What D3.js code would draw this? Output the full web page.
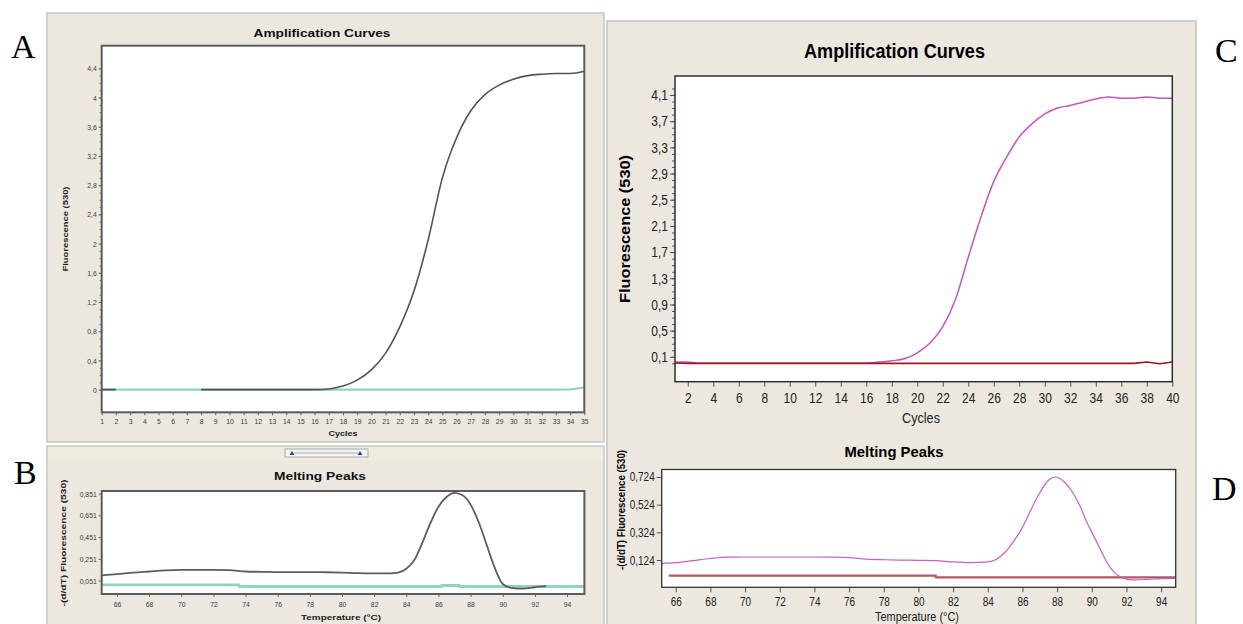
<!DOCTYPE html>
<html><head><meta charset="utf-8">
<script src="https://cdn.jsdelivr.net/npm/d3@7"></script>
<style>
html,body{margin:0;padding:0;background:#fff;}
svg{display:block;}
</style></head><body>
<svg id="c" width="1243" height="624"></svg>
<script>
// ---------------- DATA ----------------
// Panel A: amplification curves (cycles 1..35)
const cyclesA = d3.range(1, 36);
const sampleA = [0,0,null,null,null,null,null,0,0,0,0,0,0,0,0,0,0.01,0.05,0.13,0.27,0.5,0.86,1.35,2.05,2.9,3.45,3.82,4.04,4.17,4.25,4.3,4.32,4.33,4.33,4.36];
const negCtrlA = [0,0,0,0,0,0,0,0,0,0,0,0,0,0,0,0,0,0,0,0,0,0,0,0,0,0,0,0,0,0,0,0,0,0.005,0.03];
const yTicksA = [0,0.4,0.8,1.2,1.6,2,2.4,2.8,3.2,3.6,4,4.4];

// Panel B: melting peaks
const tempsB = [65.05,66,67,68,69,70,71,72,73,74,75,76,77,78,79,80,81,82,83,83.5,84,84.5,85,85.5,86,86.5,87,87.5,88,88.5,89,89.5,90,90.5,91,91.5,92,92.7];
const sampleB = [0.10,0.11,0.125,0.135,0.145,0.15,0.15,0.15,0.148,0.135,0.132,0.13,0.13,0.13,0.128,0.125,0.12,0.118,0.118,0.125,0.16,0.24,0.40,0.58,0.73,0.82,0.857,0.835,0.75,0.59,0.38,0.17,0.02,-0.015,-0.022,-0.02,-0.01,0.0];
const tempsNegB = [65.05,73.6,86.2,87.3,95.08];
const negCtrlB = [0.012,-0.003,0.006,-0.003,-0.003];
const yTicksB = [0.051,0.251,0.451,0.651,0.851];
const xTicksB = [66,68,70,72,74,76,78,80,82,84,86,88,90,92,94];

// Panel C: amplification curves (cycles 1..40)
const cyclesC = d3.range(1, 41);
const sampleC = [0.02,0.02,0,0,0,0,0,0,0,0,0,0,0,0,0,0,0.02,0.04,0.07,0.16,0.31,0.56,0.98,1.62,2.24,2.78,3.15,3.46,3.66,3.81,3.9,3.94,3.99,4.04,4.07,4.05,4.05,4.07,4.05,4.05];
const negCtrlC = [0.005,0,0,0,0,0,0,0,0,0,0,0,0,0,0,0,0,0,0,0,0,0,0,0,0,0,0,0,0,0,0,0,0,0,0,0,0,0.02,-0.005,0.02];
const yTicksC = [0.1,0.5,0.9,1.3,1.7,2.1,2.5,2.9,3.3,3.7,4.1];
const xTicksC = [2,4,6,8,10,12,14,16,18,20,22,24,26,28,30,32,34,36,38,40];

// Panel D: melting peaks
const tempsD = [65.2,66,67,68,69,70,71,72,73,74,75,76,77,78,79,80,81,82,83,84,84.5,85,85.5,86,86.5,87,87.5,87.9,88.4,88.8,89.3,89.7,90.1,90.5,90.8,91.35,91.8,92.3,93.2,94,94.84];
const sampleD = [0.10,0.105,0.12,0.135,0.145,0.146,0.146,0.146,0.146,0.146,0.145,0.142,0.13,0.126,0.124,0.122,0.12,0.11,0.105,0.11,0.13,0.18,0.26,0.36,0.49,0.61,0.70,0.724,0.69,0.63,0.52,0.40,0.30,0.20,0.124,0.028,-0.005,-0.02,-0.016,-0.01,-0.008];
const tempsNegD = [65.6,81,94.84];
const negCtrlD = [0.011,-0.001,-0.001];
const yTicksD = [0.124,0.324,0.524,0.724];
const xTicksD = [66,68,70,72,74,76,78,80,82,84,86,88,90,92,94];

// ---------------- DRAW ----------------
const svg = d3.select('#c');
const BEIGE = '#ece8df';
const SANS = '"Liberation Sans",Arial,sans-serif';
const comma = n => (d => (+d.toFixed(n)).toString().replace('.', ','));
const comma3 = d => d.toFixed(3).replace('.', ',');

// squeeze text horizontally to imitate a narrow typeface
function condense(sel, k) {
  sel.each(function () {
    const w = this.getComputedTextLength();
    if (w > 0) d3.select(this).attr('textLength', w * k).attr('lengthAdjust', 'spacingAndGlyphs');
  });
}

// panel backgrounds
svg.append('rect').attr('x',47).attr('y',13).attr('width',557).attr('height',429)
  .attr('fill',BEIGE).attr('stroke','#c6c8c4').attr('stroke-width',1.5);
svg.append('rect').attr('x',47).attr('y',446).attr('width',557).attr('height',190)
  .attr('fill',BEIGE).attr('stroke','#c6c8c4').attr('stroke-width',1.5);
svg.append('rect').attr('x',48).attr('y',447).attr('width',555).attr('height',14).attr('fill','#eeecdf');
svg.append('rect').attr('x',607).attr('y',21).attr('width',589).attr('height',615)
  .attr('fill',BEIGE).attr('stroke','#c2c2c0').attr('stroke-width',1.5);

// slider widget
svg.append('rect').attr('x',285).attr('y',449).attr('width',83).attr('height',8)
  .attr('fill','#f3f3f3').attr('stroke','#9a9a9a').attr('stroke-width',0.8);
svg.append('line').attr('x1',294).attr('x2',358).attr('y1',453).attr('y2',453).attr('stroke','#b0b0b0');
[292,360].forEach(cx => svg.append('path')
  .attr('d', `M${cx-2.5},455 L${cx+2.5},455 L${cx},451 Z`).attr('fill','#3040a0'));

let clipN = 0;
function panel(o) {
  const x = d3.scaleLinear().domain(o.xDomain).range([o.left, o.right]);
  const y = d3.scaleLinear().domain(o.yDomain).range([o.bottom, o.top]);
  const g = svg.append('g');
  g.append('rect').attr('x',o.left).attr('y',o.top).attr('width',o.right-o.left)
    .attr('height',o.bottom-o.top).attr('fill','#fff');
  const cid = 'clip' + (clipN++);
  svg.append('clipPath').attr('id',cid).append('rect')
    .attr('x',o.left).attr('y',o.top).attr('width',o.right-o.left).attr('height',o.bottom-o.top);

  if (o.yMinor) {
    const ym = g.append('g').attr('transform',`translate(${o.left},0)`)
      .call(d3.axisLeft(y).tickValues(o.yMinor).tickSize(o.minorLen).tickFormat(''));
    ym.select('.domain').remove();
    ym.selectAll('line').attr('stroke',o.tickColor);
  }
  const ya = g.append('g').attr('transform',`translate(${o.left},0)`)
    .call(d3.axisLeft(y).tickValues(o.yTicks).tickSize(o.tickLen).tickPadding(o.pad).tickFormat(o.fmtY));
  ya.select('.domain').remove();
  ya.selectAll('line').attr('stroke',o.tickColor);
  ya.selectAll('text').attr('font-family',SANS).attr('font-size',o.fs).attr('fill',o.textColor)
    .attr('font-weight',o.fw||'normal').call(condense, o.squeeze);

  const xa = g.append('g').attr('transform',`translate(0,${o.bottom})`)
    .call(d3.axisBottom(x).tickValues(o.xTicks).tickSize(o.tickLen).tickPadding(o.xpad).tickFormat(d3.format('d')));
  xa.select('.domain').remove();
  xa.selectAll('line').attr('stroke',o.tickColor);
  xa.selectAll('text').attr('font-family',SANS).attr('font-size',o.fs).attr('fill',o.textColor)
    .attr('font-weight',o.fw||'normal').call(condense, o.squeeze);

  o.series.forEach(s => {
    const pts = s.xs.map((v,i) => [v, s.ys[i]]);
    g.append('path').datum(pts).attr('clip-path',`url(#${cid})`)
      .attr('fill','none').attr('stroke',s.color).attr('stroke-width',s.width)
      .attr('stroke-linejoin','round')
      .attr('d', d3.line().defined(d => d[1] != null)
        .x(d => x(d[0])).y(d => y(d[1])).curve(s.curve || d3.curveMonotoneX));
  });

  g.append('rect').attr('x',o.left).attr('y',o.top).attr('width',o.right-o.left)
    .attr('height',o.bottom-o.top).attr('fill','none').attr('stroke',o.frameColor)
    .attr('stroke-width',o.frameWidth);
  return {x, y};
}

function label(t, cx, cy, opts) {
  const el = svg.append('text').text(t)
    .attr('text-anchor','middle')
    .attr('font-family',SANS)
    .attr('font-size',opts.fs)
    .attr('font-weight',opts.fw || 'normal')
    .attr('fill',opts.color || '#000');
  if (opts.len) el.attr('textLength',opts.len).attr('lengthAdjust','spacingAndGlyphs');
  if (opts.rot) {
    el.attr('transform',`translate(${cx},${cy}) rotate(-90)`).attr('dy','0.35em');
  } else {
    el.attr('x',cx).attr('y',cy);
  }
  return el;
}

// Panel A
panel({
  left:101.7, right:584.3, top:45.7, bottom:412.3,
  xDomain:[1,35], yDomain:[-0.31,4.71],
  xTicks:cyclesA, yTicks:yTicksA, yMinor:d3.range(0,45).map(i=>i/10),
  fmtY:comma(1), tickLen:3, minorLen:2, pad:2, xpad:3,
  fs:8, squeeze:0.85, textColor:'#3a3a3a', tickColor:'#666',
  frameColor:'#5c5c5c', frameWidth:2,
  series:[
    {xs:cyclesA, ys:negCtrlA, color:'#8fd3c2', width:2.2, curve:d3.curveLinear},
    {xs:cyclesA, ys:sampleA, color:'#4f5552', width:1.6}
  ]
});
label('Amplification Curves', 322, 37, {fs:11, fw:'bold', len:137, color:'#111'});
label('Cycles', 343, 436, {fs:8, fw:'bold', len:29, color:'#222'});
label('Fluorescence (530)', 66, 229, {fs:7, fw:'bold', len:85, rot:true, color:'#222'});

// Panel B
panel({
  left:101.7, right:584.4, top:491, bottom:594,
  xDomain:[65.05,95.08], yDomain:[-0.072,0.875],
  xTicks:xTicksB, yTicks:yTicksB,
  fmtY:comma3, tickLen:3, pad:2, xpad:4,
  fs:8, squeeze:0.85, textColor:'#3a3a3a', tickColor:'#666',
  frameColor:'#5c5c5c', frameWidth:2,
  series:[
    {xs:tempsNegB, ys:negCtrlB, color:'#92d2c2', width:2.8, curve:d3.curveStepAfter},
    {xs:tempsB, ys:sampleB, color:'#5a5e5c', width:1.8}
  ]
});
label('Melting Peaks', 320, 480, {fs:11, fw:'bold', len:92, color:'#111'});
label('Temperature (°C)', 341, 620, {fs:8, fw:'bold', len:80, color:'#222'});
label('-(d/dT) Fluorescence (530)', 63.6, 543, {fs:7, fw:'bold', len:127, rot:true, color:'#222'});

// Panel C
panel({
  left:675, right:1172.3, top:76, bottom:381.7,
  xDomain:[1,40], yDomain:[-0.28,4.39],
  xTicks:xTicksC, yTicks:yTicksC, yMinor:d3.range(0,43).map(i=>i/10),
  fmtY:comma(1), tickLen:5, minorLen:3, pad:2, xpad:6,
  fs:15, squeeze:0.8, textColor:'#222', tickColor:'#555',
  frameColor:'#2e2e2e', frameWidth:1.5,
  series:[
    {xs:cyclesC, ys:sampleC, color:'#c453c4', width:1.5},
    {xs:cyclesC, ys:negCtrlC, color:'#a0161c', width:1.6, curve:d3.curveLinear}
  ]
});
label('Amplification Curves', 894.5, 58, {fs:20, fw:'bold', len:181, color:'#000'});
label('Cycles', 921, 423, {fs:15, len:38, color:'#222'});
label('Fluorescence (530)', 625.5, 229, {fs:14, fw:'bold', len:148, rot:true, color:'#000'});

// Panel D
panel({
  left:661.7, right:1175.7, top:469.5, bottom:587.3,
  xDomain:[65.19,94.84], yDomain:[-0.073,0.778],
  xTicks:xTicksD, yTicks:yTicksD,
  fmtY:comma3, tickLen:5, pad:2, xpad:5,
  fs:12.5, squeeze:0.8, textColor:'#222', tickColor:'#555',
  frameColor:'#333', frameWidth:1.3,
  series:[
    {xs:tempsNegD, ys:negCtrlD, color:'#b35a5e', width:2.4, curve:d3.curveStepAfter},
    {xs:tempsD, ys:sampleD, color:'#c95dc9', width:1.2}
  ]
});
label('Melting Peaks', 894, 456.5, {fs:15, fw:'bold', len:99, color:'#000'});
label('Temperature (°C)', 917, 621, {fs:13, len:84, color:'#222'});
label('-(d/dT) Fluorescence (530)', 621, 510, {fs:10.5, fw:'bold', len:120, rot:true, color:'#000'});

// Panel letters
const SERIF = '"Liberation Serif","DejaVu Serif",serif';
[['A',11,58],['B',14,484],['C',1215,62],['D',1212,500]].forEach(([t,x,yb]) =>
  svg.append('text').text(t).attr('x',x).attr('y',yb).attr('font-family',SERIF)
    .attr('font-size',34).attr('fill','#000'));
</script>
</body></html>
